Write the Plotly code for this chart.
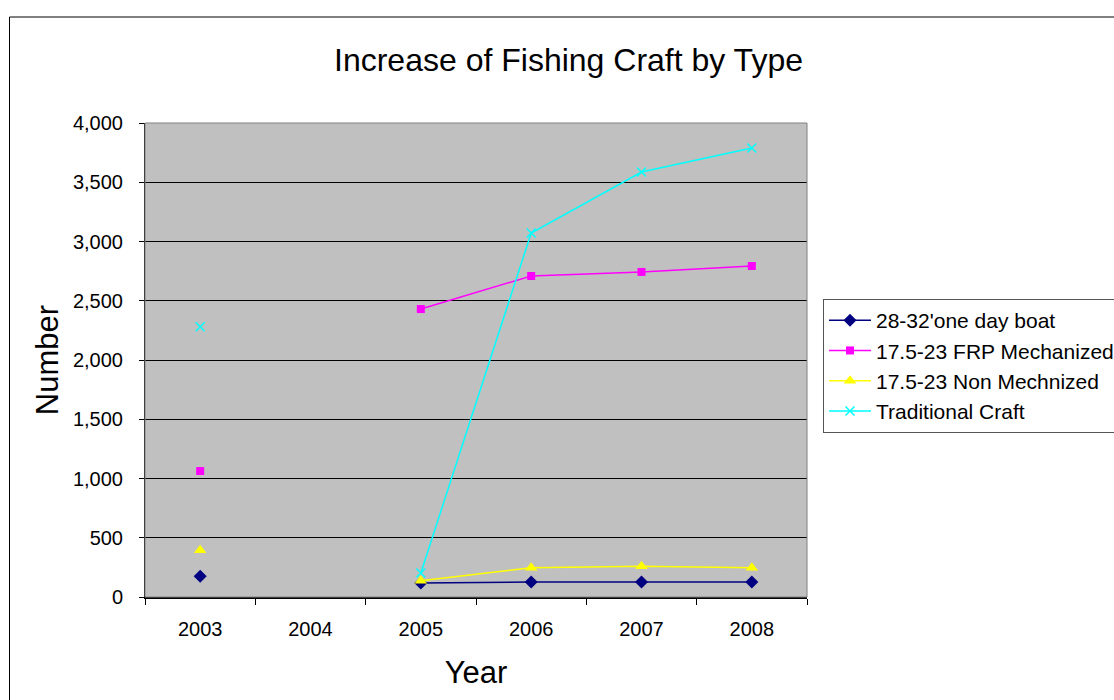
import plotly.graph_objects as go

years = ["2003", "2004", "2005", "2006", "2007", "2008"]
one_day_boat = [175, None, 118, 127, 127, 127]
frp_mechanized = [1063, None, 2430, 2709, 2743, 2793]
non_mechnized = [395, None, 137, 247, 259, 247]
traditional_craft = [2280, None, 203, 3072, 3586, 3789]

series_names = ["28-32'one day boat", "17.5-23 FRP Mechanized",
                "17.5-23 Non Mechnized", "Traditional Craft"]
y_ticks = [0, 500, 1000, 1500, 2000, 2500, 3000, 3500, 4000]

FONT = "Liberation Sans, Arial, sans-serif"

fig = go.Figure()
styles = [
    (one_day_boat, "#000080", "diamond", 10),
    (frp_mechanized, "#FF00FF", "square", 8),
    (non_mechnized, "#FFFF00", "triangle-up", 11),
    (traditional_craft, "#00FFFF", "x-thin", 9),
]
for name, (vals, col, sym, sz) in zip(series_names, styles):
    marker = dict(color=col, symbol=sym, size=sz)
    if sym == "x-thin":
        marker["line"] = dict(color=col, width=1.5)
    fig.add_trace(go.Scatter(
        x=years, y=vals, name=name, mode="lines+markers",
        line=dict(color=col, width=1.5), marker=marker,
        connectgaps=False,
    ))

# outer chart border
fig.add_shape(type="rect", xref="paper", yref="paper",
              x0=(9.5 - 145) / 662, x1=2, y0=-1, y1=(597 - 17) / 474,
              line=dict(color="#000000", width=1), fillcolor="rgba(0,0,0,0)",
              layer="below")
# plot area border (top/right gray)
fig.add_shape(type="rect", xref="paper", yref="paper",
              x0=0, x1=1, y0=0, y1=1,
              line=dict(color="#808080", width=1), fillcolor="rgba(0,0,0,0)",
              layer="above")

fig.update_layout(
    width=1114, height=700,
    margin=dict(l=145, r=307, t=123, b=103, autoexpand=False),
    paper_bgcolor="white",
    plot_bgcolor="#C0C0C0",
    font=dict(family=FONT, color="#000000"),
    title=dict(text="Increase of Fishing Craft by Type",
               font=dict(size=32, family=FONT, color="#000"),
               x=568.5 / 1114, xanchor="center", xref="container",
               y=(700 - 60) / 700, yanchor="middle", yref="container"),
    showlegend=True,
    legend=dict(x=(823 - 145) / 662, xanchor="left",
                y=(597 - 299) / 474, yanchor="top",
                bgcolor="white", bordercolor="#555555", borderwidth=1,
                itemwidth=42,
                font=dict(size=21, family=FONT, color="#000")),
    xaxis=dict(
        type="category", categoryorder="array", categoryarray=years,
        range=[-0.5, 5.5],
        showgrid=False, showline=True, linecolor="#000000", linewidth=2,
        ticks="outside", tickson="boundaries", ticklen=6, tickcolor="#000",
        tickfont=dict(size=20, family=FONT), ticklabelstandoff=13,
        title=dict(text="Year", font=dict(size=31, family=FONT), standoff=22),
        zeroline=False,
    ),
    yaxis=dict(
        range=[0, 4000], tickvals=y_ticks, tickformat=",d",
        showgrid=True, gridcolor="#000000", gridwidth=1,
        showline=True, linecolor="#000000", linewidth=1,
        ticks="outside", ticklen=5, tickcolor="#000",
        tickfont=dict(size=20, family=FONT), ticklabelstandoff=12,
        title=dict(text="Number", font=dict(size=31, family=FONT), standoff=5),
        zeroline=False,
    ),
)

fig.write_html("out.html")
